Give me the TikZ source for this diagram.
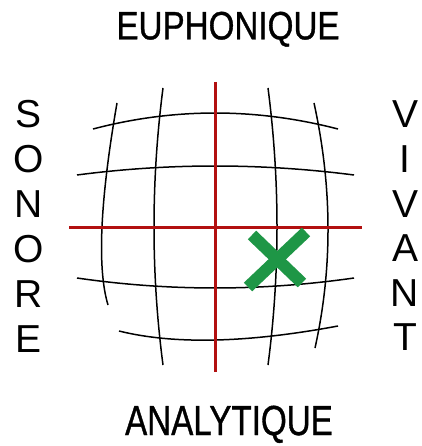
\documentclass[tikz,border=0pt]{standalone}
\usepackage{fontspec}
\setmainfont{Liberation Sans}
\newfontfamily\titlefont[FakeBold=1]{Liberation Sans}
\usepackage{graphicx}
\definecolor{axisred}{RGB}{178,16,16}
\definecolor{markgreen}{RGB}{30,150,70}
\begin{document}
\begin{tikzpicture}[x=1pt,y=-1pt,
  gridline/.style={black, line width=1.5pt},
  axis/.style={axisred, line width=3pt},
  letter/.style={inner sep=0pt, anchor=base, font=\fontsize{39}{39}\selectfont},
  title/.style={inner sep=0pt, anchor=base}]
\useasboundingbox (0,0) rectangle (421,446);
% titles
\node[title] (top) at (228,39.3) {\titlefont\fontsize{39.5}{40}\selectfont\scalebox{0.84}[1]{EUPHONIQUE}};
\node[title] (bot) at (229,435) {\titlefont\fontsize{42}{42}\selectfont\scalebox{0.79}[1]{ANALYTIQUE}};
% side words
\foreach \c [count=\i] in {S,O,N,O,R,E}
  \node[letter] (l\i) at (29,{128+44.8*(\i-1)}) {\c};
\foreach \c [count=\i] in {V,I,V,A,N,T}
  \node[letter] (r\i) at (405,{128+44.5*(\i-1)}) {\c};
% horizontal grid curves
\draw[gridline] (93,129) .. controls (174,107.7) and (255.7,107.7) .. (338,129);
\draw[gridline] (77,175) .. controls (168.7,163) and (261,163) .. (354,175);
\draw[gridline] (77,278) .. controls (168.7,291.3) and (261,291.3) .. (354,278);
\draw[gridline] (119,331) .. controls (174,344.7) and (247,343) .. (338,326);
% vertical grid curves
\draw[gridline] (117,103) .. controls (100,201) and (97,268.3) .. (108,305);
\draw[gridline] (163,88) .. controls (151,181) and (151,273.3) .. (163,365);
\draw[gridline] (268,88) .. controls (280,181) and (280,273.3) .. (268,365);
\draw[gridline] (314,103) .. controls (332.3,186.7) and (332.7,268.3) .. (315,348);
% red axes
\coordinate (vt) at (215,82);
\coordinate (vb) at (215,372);
\coordinate (hl) at (69,227);
\coordinate (hr) at (362,227);
\draw[axis] (vt) -- (vb);
\draw[axis] (hl) -- (hr);
% green cross
\coordinate (x1) at (252,235);
\coordinate (x2) at (302,283);
\coordinate (x3) at (306,232);
\coordinate (x4) at (248,287);
\draw[markgreen, line width=12pt] (x1) -- (x2);
\draw[markgreen, line width=12pt] (x3) -- (x4);
\end{tikzpicture}
\end{document}
